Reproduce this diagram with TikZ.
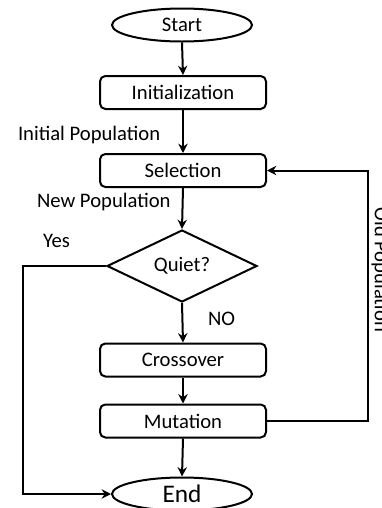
\documentclass[tikz,border=0pt]{standalone}
\usepackage{fontspec}
\setmainfont{Carlito}
\usetikzlibrary{shapes.geometric,arrows.meta}
\begin{document}
\begin{tikzpicture}[x=0.75pt,y=-0.75pt,
  font=\fontsize{15.5}{18}\selectfont,
  every path/.style={line width=1.5pt},
  flowbox/.style={draw, rounded corners=4pt, minimum width=124.5pt, minimum height=24.75pt, inner sep=0pt},
  terminal/.style={draw, ellipse, minimum width=105pt, minimum height=24.75pt, inner sep=0pt},
  decision/.style={draw, diamond, minimum width=112.5pt, minimum height=54pt, inner sep=0pt, aspect=2.08},
  flow/.style={draw, -{Stealth[length=7pt,width=7pt]}},
  lbl/.style={inner sep=0pt, anchor=west}]
\useasboundingbox (0,0) rectangle (382,508);
\node[terminal] (start) at (182,25) {Start};
\node[flowbox] (init) at (183,92.5) {Initialization};
\node[flowbox] (sel) at (183,170.5) {Selection};
\node[decision] (quiet) at (182,266) {Quiet?};
\node[flowbox] (cross) at (183,360) {Crossover};
\node[flowbox] (mut) at (183,421) {Mutation};
\node[terminal, font=\fontsize{19}{22}\selectfont] (end) at (182,494) {End};
\node[lbl] (lip) at (17,135) {Initial Population};
\node[lbl] (lnp) at (36,202) {New Population};
\node[lbl] (lyes) at (42,241) {Yes};
\node[lbl] (lno) at (207,319) {NO};
\node[inner sep=0pt, rotate=-90, anchor=south] (lold) at (370.5,270) {Old Population};
\coordinate (cl) at (23,266);
\coordinate (cl2) at (23,494);
\coordinate (cr) at (368,421);
\coordinate (cr2) at (368,170.5);
\draw[flow] (start.south) -- (init.north);
\draw[flow] (init.south) -- (sel.north);
\draw[flow] (sel.south) -- (quiet.north);
\draw[flow] (quiet.south) -- (cross.north);
\draw[flow] (cross.south) -- (mut.north);
\draw[flow] (mut.south) -- (end.north);
\draw[flow] (quiet.west) -- (cl) -- (cl2) -- (end.west);
\draw[flow] (mut.east) -- (cr) -- (cr2) -- (sel.east);
\end{tikzpicture}
\end{document}
